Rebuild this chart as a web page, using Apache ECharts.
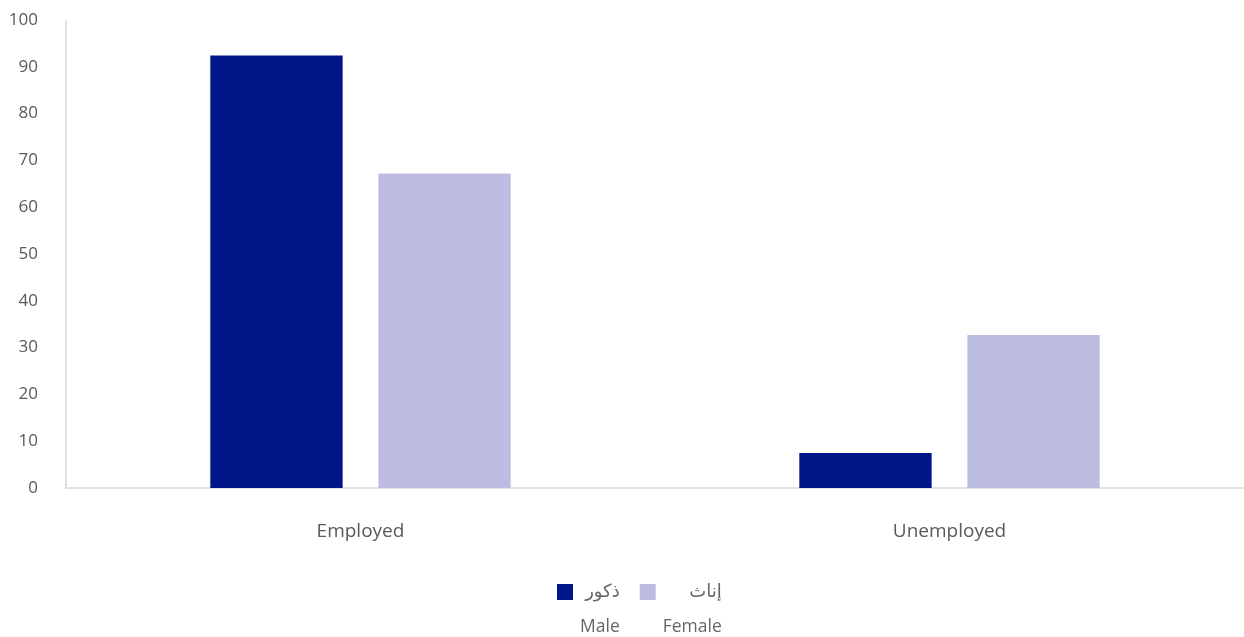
<!DOCTYPE html>
<html>
<head>
<meta charset="utf-8">
<script src="https://cdn.jsdelivr.net/npm/echarts@6/dist/echarts.min.js"></script>
<style>html,body{margin:0;padding:0;background:#fff}#chart{width:1244px;height:637px}</style>
</head>
<body>
<div id="chart"></div>
<script>
const categories = ['Employed', 'Unemployed'];
const maleValues = [92.4, 7.5];
const femaleValues = [67.2, 32.7];
const maleNameAr = 'ذكور';
const maleNameEn = 'Male';
const femaleNameAr = 'إناث';
const femaleNameEn = 'Female';
const yTicks = { min: 0, max: 100, interval: 10 };

const englishNames = {};
englishNames[maleNameAr] = maleNameEn;
englishNames[femaleNameAr] = femaleNameEn;

const chart = echarts.init(document.getElementById('chart'));
chart.setOption({
  animation: false,
  textStyle: { fontFamily: '"Open Sans", "DejaVu Sans", sans-serif' },
  grid: { left: 66, right: -4, top: 20, bottom: 149, containLabel: false },
  xAxis: {
    type: 'category',
    data: categories,
    axisLine: { lineStyle: { color: '#d9d9d9', width: 1.5 } },
    axisTick: { show: false },
    axisLabel: { color: '#595959', fontSize: 19, margin: 34 }
  },
  yAxis: {
    type: 'value',
    min: yTicks.min, max: yTicks.max, interval: yTicks.interval,
    axisLine: { show: true, lineStyle: { color: '#d9d9d9', width: 1.5 } },
    axisTick: { show: false },
    splitLine: { show: false },
    axisLabel: { color: '#595959', fontSize: 17, margin: 28 }
  },
  legend: {
    left: 552,
    top: 543,
    itemWidth: 16,
    itemHeight: 16,
    itemGap: 20,
    icon: 'rect',
    data: [maleNameAr, femaleNameAr],
    formatter: function (name) {
      return '{e| }\n{a|' + name + '}\n{b|' + englishNames[name] + '}';
    },
    textStyle: {
      padding: [0, 0, 0, 2],
      rich: {
        e: { fontSize: 17.5, lineHeight: 35, align: 'right' },
        a: { fontSize: 18, lineHeight: 35, color: '#666666', align: 'right', fontFamily: '"DejaVu Sans", sans-serif' },
        b: { fontSize: 17.5, lineHeight: 35, color: '#666666', align: 'right' }
      }
    }
  },
  series: [
    {
      name: maleNameAr, type: 'bar', data: maleValues,
      itemStyle: { color: '#001689' },
      barGap: '27%', barCategoryGap: '49%'
    },
    {
      name: femaleNameAr, type: 'bar', data: femaleValues,
      itemStyle: { color: '#bcbde0' }
    }
  ]
});
</script>
</body>
</html>
